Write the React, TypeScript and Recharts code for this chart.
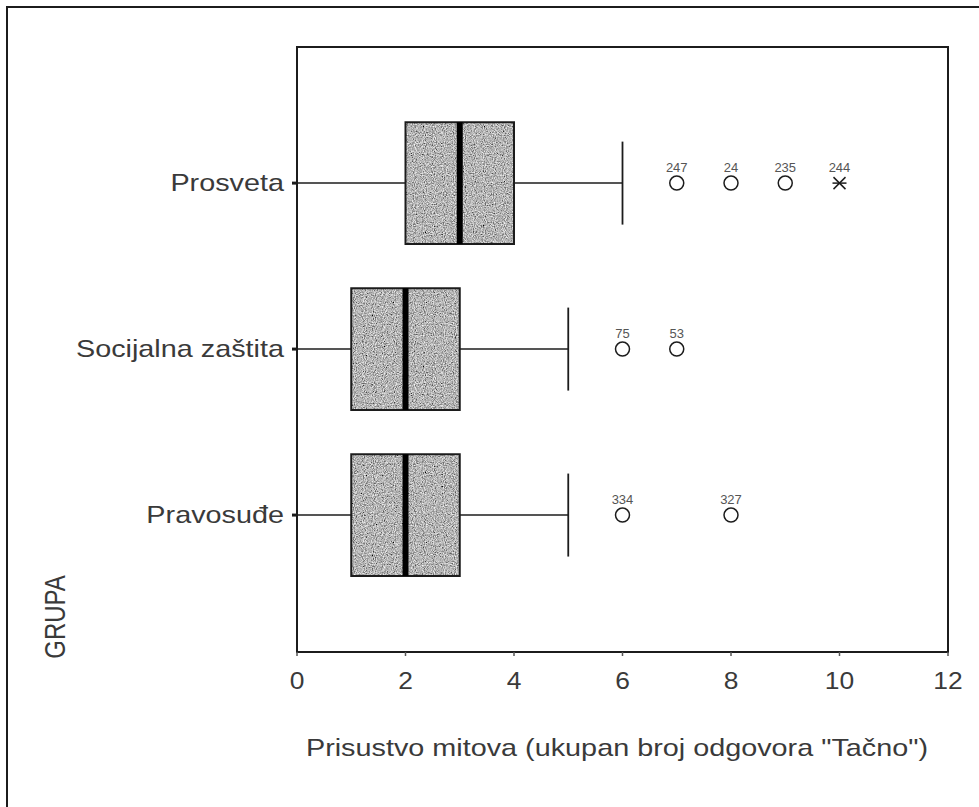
import React from 'react';
import {
  ScatterChart,
  Scatter,
  XAxis,
  YAxis,
  ReferenceArea,
  ReferenceLine
} from 'recharts';

// box plot summary per group (top to bottom)
const CATEGORIES = ['Prosveta', 'Socijalna zaštita', 'Pravosuđe'];
const CATEGORY_POS = [2, 1, 0];
const WHISKER_LOW = [0, 0, 0];
const Q1 = [2, 1, 1];
const MEDIAN = [3, 2, 2];
const Q3 = [4, 3, 3];
const WHISKER_HIGH = [6, 5, 5];

// outliers / extremes with case numbers
const OUTLIER_VALUES = [[7, 8, 9, 10], [6, 7], [6, 8]];
const OUTLIER_CASES = [['247', '24', '235', '244'], ['75', '53'], ['334', '327']];
const OUTLIER_EXTREME = [[false, false, false, true], [false, false], [false, false]];

const X_TICKS = [0, 2, 4, 6, 8, 10, 12];

const BOX_HALF = 0.367;
const CAP_HALF = 0.25;
const INK = '#1c1c1c';
const TEXT = '#3a3a3a';
const FONT = '"Liberation Sans", Arial, sans-serif';

const outlierData = OUTLIER_VALUES.flatMap((vals, g) =>
  vals.map((v, i) => ({
    x: v,
    y: CATEGORY_POS[g],
    id: OUTLIER_CASES[g][i],
    extreme: OUTLIER_EXTREME[g][i]
  }))
);

const OutlierShape = (props: any) => {
  const { cx, cy, payload } = props;
  const r = 7;
  return (
    <g>
      {payload.extreme ? (
        <g stroke={INK} strokeWidth={1.5}>
          <line x1={cx - 7} y1={cy} x2={cx + 7} y2={cy} />
          <line x1={cx - 6} y1={cy - 6} x2={cx + 6} y2={cy + 6} />
          <line x1={cx - 6} y1={cy + 6} x2={cx + 6} y2={cy - 6} />
        </g>
      ) : (
        <circle cx={cx} cy={cy} r={r} fill="#fff" stroke={INK} strokeWidth={1.5} />
      )}
      <text x={cx} y={cy - 11} textAnchor="middle" fontSize={13} fill="#555" fontFamily={FONT}>
        {payload.id}
      </text>
    </g>
  );
};

const YTick = (props: any) => {
  const { x, y, payload } = props;
  const idx = CATEGORY_POS.indexOf(payload.value);
  return (
    <g transform={`translate(${x},${y}) scale(1.2,1)`}>
      <text x={0} y={0} dy={8} textAnchor="end" fontSize={24} fill={TEXT} fontFamily={FONT}>
        {idx >= 0 ? CATEGORIES[idx] : ''}
      </text>
    </g>
  );
};

const XTick = (props: any) => {
  const { x, y, payload } = props;
  return (
    <g transform={`translate(${x},${y}) scale(1.1,1)`}>
      <text x={0} y={0} dy={27} textAnchor="middle" fontSize={24} fill={TEXT} fontFamily={FONT}>
        {payload.value}
      </text>
    </g>
  );
};

export default function App() {
  const yDomain: [number, number] = [-0.825, 2.82];
  return (
    <div
      style={{
        position: 'absolute',
        left: 0,
        top: 0,
        width: 979,
        height: 807,
        background: '#fff',
        overflow: 'hidden'
      }}
    >
      <div
        style={{
          position: 'absolute',
          left: 6,
          top: 6,
          right: -10,
          bottom: -10,
          borderLeft: `2px solid ${INK}`,
          borderTop: `2px solid ${INK}`
        }}
      />
      <ScatterChart width={979} height={807} margin={{ top: 47, right: 31, bottom: 0, left: 0 }}>
        <defs>
          <filter id="grainNoise" x="0" y="0" width="100%" height="100%">
            <feTurbulence type="fractalNoise" baseFrequency="0.9" numOctaves={2} seed={3} />
            <feColorMatrix
              type="matrix"
              values="1.3 0 0 0 -0.19  1.3 0 0 0 -0.19  1.3 0 0 0 -0.19  0 0 0 0 1"
            />
          </filter>
          <pattern id="boxGrain" width={240} height={240} patternUnits="userSpaceOnUse">
            <rect width={240} height={240} fill="#aaa" filter="url(#grainNoise)" />
          </pattern>
        </defs>
        <XAxis
          type="number"
          dataKey="x"
          domain={[0, 12]}
          ticks={X_TICKS}
          allowDataOverflow
          height={155}
          axisLine={{ stroke: INK, strokeWidth: 2 }}
          tickLine={{ stroke: '#555', strokeWidth: 1.5 }}
          tickSize={4}
          tickMargin={6}
          tick={<XTick />}
        />
        <YAxis
          type="number"
          dataKey="y"
          domain={yDomain}
          ticks={CATEGORY_POS}
          allowDataOverflow
          width={297}
          axisLine={{ stroke: INK, strokeWidth: 2 }}
          tickLine={{ stroke: INK, strokeWidth: 3 }}
          tickSize={5}
          tickMargin={8}
          tick={<YTick />}
        />
        {/* plot frame */}
        <ReferenceArea
          x1={0}
          x2={12}
          y1={yDomain[0]}
          y2={yDomain[1]}
          fill="none"
          stroke={INK}
          strokeWidth={2}
        />
        {CATEGORY_POS.map((pos, g) => (
          <ReferenceLine
            key={`wl-${g}`}
            segment={[
              { x: WHISKER_LOW[g], y: pos },
              { x: Q1[g], y: pos }
            ]}
            stroke={INK}
            strokeWidth={1.5}
          />
        ))}
        {CATEGORY_POS.map((pos, g) => (
          <ReferenceLine
            key={`wh-${g}`}
            segment={[
              { x: Q3[g], y: pos },
              { x: WHISKER_HIGH[g], y: pos }
            ]}
            stroke={INK}
            strokeWidth={1.5}
          />
        ))}
        {CATEGORY_POS.map((pos, g) => (
          <ReferenceLine
            key={`cap-${g}`}
            segment={[
              { x: WHISKER_HIGH[g], y: pos - CAP_HALF },
              { x: WHISKER_HIGH[g], y: pos + CAP_HALF }
            ]}
            stroke={INK}
            strokeWidth={1.8}
          />
        ))}
        {CATEGORY_POS.map((pos, g) => (
          <ReferenceArea
            key={`box-${g}`}
            x1={Q1[g]}
            x2={Q3[g]}
            y1={pos - BOX_HALF}
            y2={pos + BOX_HALF}
            fill="url(#boxGrain)"
            fillOpacity={1}
            stroke={INK}
            strokeWidth={2}
          />
        ))}
        {CATEGORY_POS.map((pos, g) => (
          <ReferenceLine
            key={`med-${g}`}
            segment={[
              { x: MEDIAN[g], y: pos - BOX_HALF },
              { x: MEDIAN[g], y: pos + BOX_HALF }
            ]}
            stroke="#000"
            strokeWidth={6}
          />
        ))}
        <Scatter data={outlierData} shape={<OutlierShape />} isAnimationActive={false} />
      </ScatterChart>
      <svg
        width={979}
        height={807}
        style={{ position: 'absolute', left: 0, top: 0, pointerEvents: 'none' }}
      >
        <g transform="translate(617,756) scale(1.2,1)">
          <text x={0} y={0} textAnchor="middle" fontSize={24} fill={TEXT} fontFamily={FONT}>
            Prisustvo mitova (ukupan broj odgovora "Tačno")
          </text>
        </g>
        <g transform="translate(65,617) rotate(-90) scale(1,1.2)">
          <text x={0} y={0} textAnchor="middle" fontSize={24} fill={TEXT} fontFamily={FONT}>
            GRUPA
          </text>
        </g>
      </svg>
    </div>
  );
}
